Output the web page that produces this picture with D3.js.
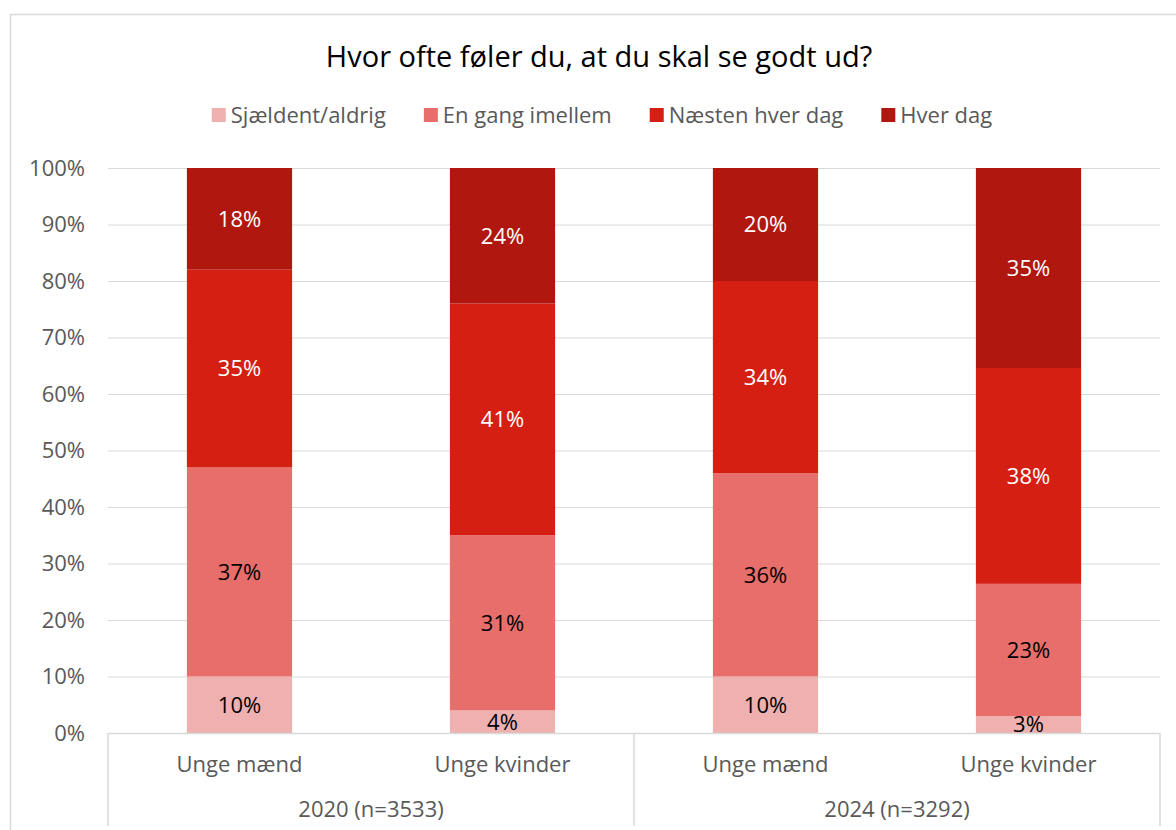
<!DOCTYPE html>
<html>
<head>
<meta charset="utf-8">
<script src="https://cdn.jsdelivr.net/npm/d3@7"></script>
<style>
  body { margin: 0; background: #fff; }
  svg { display: block; font-family: "Open Sans", "Liberation Sans", sans-serif; }
</style>
</head>
<body>
<svg id="chart" width="1176" height="830"></svg>
<script>
// data
var series = ['Sjældent/aldrig', 'En gang imellem', 'Næsten hver dag', 'Hver dag'];
var colors = ['#efb0b0', '#e86e6b', '#d41f12', '#b0170e'];
var categories = ['Unge mænd', 'Unge kvinder', 'Unge mænd', 'Unge kvinder'];
var groups = ['2020 (n=3533)', '2024 (n=3292)'];
var sjaeldent = [10, 4, 10, 3];
var engang = [37, 31, 36, 23.4];
var naesten = [35, 41, 34, 38.2];
var hverdag = [18, 24, 20, 35.4];
var yTicks = [0, 10, 20, 30, 40, 50, 60, 70, 80, 90, 100];

var svg = d3.select('#chart');
var plotLeft = 108, plotRight = 1160, plotTop = 168, plotBottom = 733;

// outer chart border
svg.append('rect')
    .attr('x', 10.5).attr('y', 14.5)
    .attr('width', 1200).attr('height', 900)
    .attr('fill', 'none')
    .attr('stroke', '#d9d9d9')
    .attr('stroke-width', 1.5);

var idx = d3.range(categories.length);
var x = d3.scaleBand().domain(idx).range([plotLeft, plotRight]).paddingInner(0.6).paddingOuter(0.3);
var y = d3.scaleLinear().domain([0, 100]).range([plotBottom, plotTop]);

// gridlines
svg.append('g')
    .selectAll('line')
    .data(yTicks.slice(1))
    .enter()
    .append('line')
    .attr('x1', plotLeft).attr('x2', plotRight)
    .attr('y1', function (d) { return y(d) + 0.5; })
    .attr('y2', function (d) { return y(d) + 0.5; })
    .attr('stroke', '#d9d9d9')
    .attr('stroke-width', 1.2);

// y tick labels
svg.append('g')
    .selectAll('text')
    .data(yTicks)
    .enter()
    .append('text')
    .attr('x', 85)
    .attr('y', function (d) { return y(d); })
    .attr('dy', '0.35em')
    .attr('text-anchor', 'end')
    .attr('font-size', 22)
    .attr('fill', '#595959')
    .text(function (d) { return d + '%'; });

// stacked bars
var rows = idx.map(function (i) {
    return { i: i, s0: sjaeldent[i], s1: engang[i], s2: naesten[i], s3: hverdag[i] };
});
var stack = d3.stack().keys(['s0', 's1', 's2', 's3']);
var layers = stack(rows);

var layer = svg.append('g')
    .selectAll('g')
    .data(layers)
    .enter()
    .append('g')
    .attr('fill', function (d, k) { return colors[k]; });

layer.selectAll('rect')
    .data(function (d) { return d; })
    .enter()
    .append('rect')
    .attr('x', function (d) { return x(d.data.i); })
    .attr('width', x.bandwidth())
    .attr('y', function (d) { return y(d[1]); })
    .attr('height', function (d) { return y(d[0]) - y(d[1]); });

// data labels
layers.forEach(function (l, k) {
    svg.append('g')
        .selectAll('text')
        .data(l)
        .enter()
        .append('text')
        .attr('x', function (d) { return x(d.data.i) + x.bandwidth() / 2; })
        .attr('y', function (d) { return (y(d[0]) + y(d[1])) / 2; })
        .attr('dy', '0.36em')
        .attr('text-anchor', 'middle')
        .attr('font-size', 22)
        .attr('fill', k < 2 ? '#000' : '#fff')
        .text(function (d) { return Math.round(d[1] - d[0]) + '%'; });
});

// category axis box
var axis = svg.append('g').attr('stroke', '#d9d9d9').attr('stroke-width', 1.5);
axis.append('line').attr('x1', plotLeft).attr('x2', plotRight).attr('y1', plotBottom + 0.5).attr('y2', plotBottom + 0.5);
var mid = (x(1) + x.bandwidth() + x(2)) / 2;
[plotLeft, mid, plotRight].forEach(function (xx) {
    axis.append('line').attr('x1', xx).attr('x2', xx).attr('y1', plotBottom).attr('y2', 826);
});

svg.append('g')
    .selectAll('text')
    .data(idx)
    .enter()
    .append('text')
    .attr('x', function (i) { return x(i) + x.bandwidth() / 2; })
    .attr('y', 764)
    .attr('dy', '0.35em')
    .attr('text-anchor', 'middle')
    .attr('font-size', 22)
    .attr('fill', '#595959')
    .text(function (i) { return categories[i]; });

var groupCenters = [(plotLeft + mid) / 2, (mid + plotRight) / 2];
svg.append('g')
    .selectAll('text')
    .data(groups)
    .enter()
    .append('text')
    .attr('x', function (d, g) { return groupCenters[g]; })
    .attr('y', 809)
    .attr('dy', '0.35em')
    .attr('text-anchor', 'middle')
    .attr('font-size', 22)
    .attr('fill', '#595959')
    .text(function (d) { return d; });

// title
svg.append('text')
    .attr('x', 599).attr('y', 57)
    .attr('dy', '0.35em')
    .attr('text-anchor', 'middle')
    .attr('font-size', 29)
    .attr('fill', '#000')
    .text('Hvor ofte føler du, at du skal se godt ud?');

// legend
var legend = svg.append('g');
var lx = 0;
series.forEach(function (s, k) {
    var item = legend.append('g').attr('transform', 'translate(' + lx + ',0)');
    item.append('rect').attr('x', 0).attr('y', -7).attr('width', 14).attr('height', 14).attr('fill', colors[k]);
    var t = item.append('text').attr('x', 19).attr('y', 0).attr('dy', '0.35em')
        .attr('font-size', 22).attr('fill', '#595959').text(s);
    lx += 19 + t.node().getComputedTextLength() + 38;
});
lx -= 38;
legend.attr('transform', 'translate(' + (602 - lx / 2) + ',115)');
</script>
</body>
</html>
